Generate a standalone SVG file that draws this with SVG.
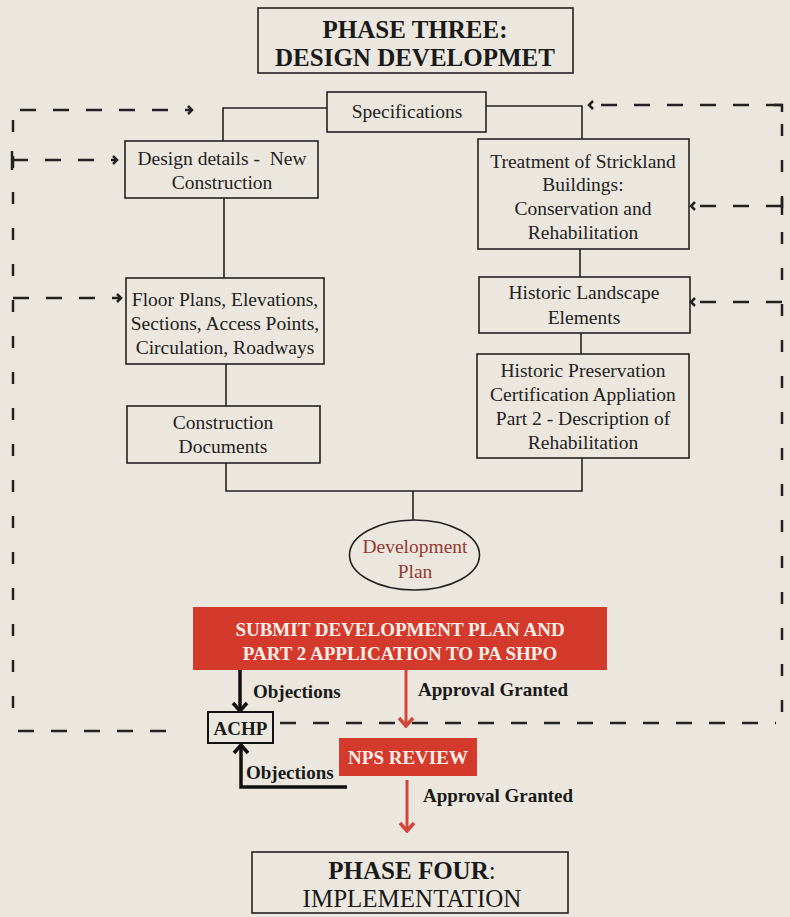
<svg xmlns="http://www.w3.org/2000/svg" width="790" height="917" viewBox="0 0 790 917">
<defs>
<style>
.bg{fill:#ece7de}
.box{fill:none;stroke:#222;stroke-width:1.6}
.t{font-family:"Liberation Serif","Times New Roman",serif;font-size:19.5px;fill:#222;text-anchor:middle}
.title{font-family:"Liberation Serif","Times New Roman",serif;font-size:25px;fill:#1a1a1a;text-anchor:middle}
.b{font-weight:bold}
.lbl{font-family:"Liberation Serif","Times New Roman",serif;font-size:19px;font-weight:bold;fill:#1a1a1a}
.wt{font-family:"Liberation Serif","Times New Roman",serif;font-size:19px;font-weight:bold;fill:#fbeee8;text-anchor:middle}
.ln{fill:none;stroke:#222;stroke-width:1.6}
.dh{fill:none;stroke:#222;stroke-width:2.5;stroke-dasharray:16 17}
.dv{fill:none;stroke:#222;stroke-width:2.5;stroke-dasharray:12 24}
.red{fill:#d43a2c}
.ra{fill:none;stroke:#d4463a;stroke-width:3}
.ba{fill:none;stroke:#111;stroke-width:3.5}
</style>
<marker id="chev" viewBox="-6 -6 10 12" refX="0" refY="0" markerWidth="10" markerHeight="12" markerUnits="userSpaceOnUse" orient="auto">
<path d="M-3,-4 L1,0 L-3,4" fill="none" stroke="#222" stroke-width="2.5"/>
</marker>
<marker id="barrow" viewBox="-12 -10 14 20" refX="0" refY="0" markerWidth="14" markerHeight="20" markerUnits="userSpaceOnUse" orient="auto">
<path d="M-8,-7 L0,0 L-8,7" fill="none" stroke="#111" stroke-width="3.5"/>
</marker>
<marker id="rarrow" viewBox="-12 -10 14 20" refX="0" refY="0" markerWidth="14" markerHeight="20" markerUnits="userSpaceOnUse" orient="auto">
<path d="M-8,-7 L0,0 L-8,7" fill="none" stroke="#d4463a" stroke-width="3.5"/>
</marker>
</defs>
<rect class="bg" x="0" y="0" width="790" height="917"/>

<g id="connectors">
<path class="ln" d="M327,108 H223 V141"/>
<path class="ln" d="M486,106 H582 V139"/>
<path class="ln" d="M224,198 V278"/>
<path class="ln" d="M226,364 V406"/>
<path class="ln" d="M226,463 V491 H582 V458"/>
<path class="ln" d="M580,249 V277"/>
<path class="ln" d="M581,333 V354"/>
<path class="ln" d="M413,491 V520"/>
<path class="dh" d="M20,110 H191" marker-end="url(#chev)"/>
<path class="dv" d="M13,120 V714"/>
<path class="dh" d="M12,160 H116" marker-end="url(#chev)"/>
<path class="ln" d="M12,151 V170" style="stroke-width:2.5"/>
<path class="dh" d="M13,298 H120" marker-end="url(#chev)"/>
<path class="dh" d="M18,731 H178"/>
<path class="dh" d="M782,105 H590" marker-end="url(#chev)"/>
<path class="ln" d="M774,105 H782 V112" style="stroke-width:2.5"/>
<path class="dv" d="M782,124 V716"/>
<path class="dh" d="M782,206 H692" marker-end="url(#chev)"/>
<path class="ln" d="M782,198 V215" style="stroke-width:2.5"/>
<path class="dh" d="M782,302 H692" marker-end="url(#chev)"/>
<path class="dh" d="M280,723 H776"/>
<path class="ba" d="M240,670 V711" marker-end="url(#barrow)"/>
<path class="ba" d="M347,787 H241 V745" marker-end="url(#barrow)"/>
<path class="ra" d="M406,670 V726" marker-end="url(#rarrow)"/>
<path class="ra" d="M407,780 V831" marker-end="url(#rarrow)"/>
<text class="lbl" x="253" y="698">Objections</text>
<text class="lbl" x="418" y="696">Approval Granted</text>
<text class="lbl" x="246" y="779">Objections</text>
<text class="lbl" x="423" y="802">Approval Granted</text>
</g>

<g id="phase-three">
<rect class="box" x="258" y="8" width="315" height="65"/>
<text class="title b" x="415" y="38">PHASE THREE:</text>
<text class="title b" x="415" y="66">DESIGN DEVELOPMET</text>
</g>

<g id="specifications">
<rect class="box" x="327" y="92" width="159" height="40"/>
<text class="t" x="407" y="118">Specifications</text>
</g>

<g id="design-details">
<rect class="box" x="125" y="141" width="193" height="57"/>
<text class="t" x="222" y="165" xml:space="preserve">Design details -  New</text>
<text class="t" x="222" y="189">Construction</text>
</g>

<g id="floor-plans">
<rect class="box" x="126" y="278" width="198" height="86"/>
<text class="t" x="225" y="306">Floor Plans, Elevations,</text>
<text class="t" x="225" y="330">Sections, Access Points,</text>
<text class="t" x="225" y="354">Circulation, Roadways</text>
</g>

<g id="construction-documents">
<rect class="box" x="127" y="406" width="193" height="57"/>
<text class="t" x="223" y="429">Construction</text>
<text class="t" x="223" y="453">Documents</text>
</g>

<g id="treatment">
<rect class="box" x="478" y="139" width="211" height="110"/>
<text class="t" x="583" y="168">Treatment of Strickland</text>
<text class="t" x="583" y="191">Buildings:</text>
<text class="t" x="583" y="215">Conservation and</text>
<text class="t" x="583" y="239">Rehabilitation</text>
</g>

<g id="historic-landscape">
<rect class="box" x="479" y="277" width="211" height="56"/>
<text class="t" x="584" y="299">Historic Landscape</text>
<text class="t" x="584" y="324">Elements</text>
</g>

<g id="historic-preservation">
<rect class="box" x="477" y="354" width="212" height="104"/>
<text class="t" x="583" y="377">Historic Preservation</text>
<text class="t" x="583" y="401">Certification Appliation</text>
<text class="t" x="583" y="425">Part 2 - Description of</text>
<text class="t" x="583" y="449">Rehabilitation</text>
</g>

<g id="development-plan">
<ellipse cx="414.5" cy="555" rx="65" ry="35" fill="none" stroke="#222" stroke-width="1.6"/>
<text class="t" x="415" y="553" style="fill:#963a33">Development</text>
<text class="t" x="415" y="578" style="fill:#963a33">Plan</text>
</g>

<g id="submit">
<rect class="red" x="193" y="607" width="414" height="63"/>
<text class="wt" x="400" y="636">SUBMIT DEVELOPMENT PLAN AND</text>
<text class="wt" x="400" y="660">PART 2 APPLICATION TO PA SHPO</text>
</g>

<g id="achp">
<rect x="208" y="712" width="65" height="31" fill="none" stroke="#111" stroke-width="2"/>
<text class="lbl" x="240.5" y="735" text-anchor="middle">ACHP</text>
</g>

<g id="nps-review">
<rect class="red" x="339" y="738" width="138" height="38"/>
<text class="wt" x="408" y="764">NPS REVIEW</text>
</g>

<g id="phase-four">
<rect class="box" x="252" y="852" width="316" height="61"/>
<text class="title" x="412" y="879"><tspan class="b">PHASE FOUR</tspan>:</text>
<text class="title" x="412" y="907">IMPLEMENTATION</text>
</g>
</svg>
